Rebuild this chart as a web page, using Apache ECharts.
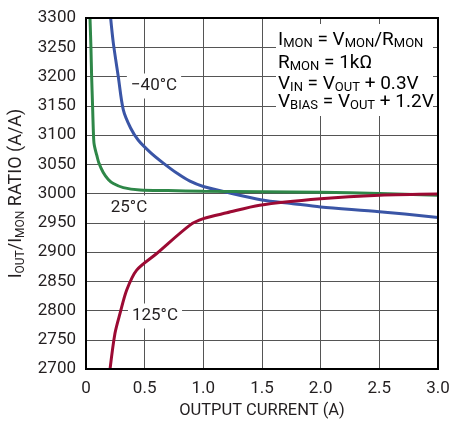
<!DOCTYPE html>
<html>
<head>
<meta charset="utf-8">
<script src="https://cdn.jsdelivr.net/npm/echarts@6/dist/echarts.min.js"></script>
<style>
    html,body{margin:0;padding:0;background:#fff;}
    #chart{width:452px;height:421px;}
</style>
</head>
<body>
<div id="chart"></div>
<script>
    // output current (A) vs IOUT/IMON ratio
    var cold = [[0.21,3300],[0.233,3257],[0.275,3200],[0.318,3143],[0.38,3112],[0.446,3091],[0.55,3070],[0.659,3052],[0.78,3034],[0.886,3021],[1.0,3012],[1.2,3002],[1.5,2989],[1.75,2983],[2.0,2977],[2.5,2969],[3.0,2959]];
    var room = [[0.034,3300],[0.042,3250],[0.048,3200],[0.056,3150],[0.062,3110],[0.068,3086],[0.08,3074],[0.091,3066],[0.11,3052],[0.147,3036],[0.19,3024],[0.233,3017],[0.318,3010],[0.46,3006],[0.7,3005],[1.0,3004],[1.5,3003],[2.0,3002],[2.5,3000],[3.0,2997]];
    var hot = [[0.205,2700],[0.247,2761],[0.29,2795],[0.347,2835],[0.432,2869],[0.6,2897],[0.886,2946],[1.0,2957],[1.2,2967],[1.48,2980],[2.0,2991],[2.5,2997],[3.0,2999]];
    var curveNames = ['−40°C','25°C','125°C'];
    var noteLines = [
        '{n|I}{s|MON}{n| = V}{s|MON}{n|/R}{s|MON}',
        '{n|R}{s|MON}{n| = 1kΩ}',
        '{n|V}{s|IN}{n| = V}{s|OUT}{n| + 0.3V}',
        '{n|V}{s|BIAS}{n| = V}{s|OUT}{n| + 1.2V}'
    ];

    var font = 'Roboto';
    var ink = '#231f20';

    var myChart = echarts.init(document.getElementById('chart'));

    function lineSeries(name,data,color){
        return {
            name:name,
            type:'line',
            data:data,
            showSymbol:false,
            smooth:0.3,
            lineStyle:{color:color,width:3},
            z:5
        };
    }

    function tag(text,x,y){
        return {
            type:'text',
            x:x,
            y:y,
            z:1,
            style:{
                text:text,
                font:'17px ' + font,
                fill:ink,
                align:'center',
                verticalAlign:'middle',
                backgroundColor:'#fff',
                padding:[4,4,4,4]
            }
        };
    }

    var rich = {
        n:{fontFamily:font,fontSize:19,color:ink},
        s:{fontFamily:font,fontSize:13,color:ink,padding:[8,0,0,0]}
    };

    var graphics = [{
        type:'rect',
        shape:{x:276,y:24,width:157,height:92},
        style:{fill:'#fff'},
        z:1
    }];
    var noteY = [40,63,84,102];
    noteLines.forEach(function(t,i){
        graphics.push({
            type:'text',
            x:278,
            y:noteY[i],
            z:2,
            style:{text:t,rich:rich,align:'left',verticalAlign:'middle'}
        });
    });
    graphics.push(tag(curveNames[0],154,86));
    graphics.push(tag(curveNames[1],129,208));
    graphics.push(tag(curveNames[2],155,316));

    var option = {
        animation:false,
        backgroundColor:'#fff',
        grid:{
            left:86,
            right:14,
            top:18,
            bottom:52,
            outerBoundsMode:'none',
            show:true,
            borderColor:'#000',
            borderWidth:2,
            z:6
        },
        xAxis:{
            type:'value',
            min:0,
            max:3,
            interval:0.5,
            name:'OUTPUT CURRENT (A)',
            nameLocation:'middle',
            nameGap:33,
            nameTextStyle:{fontFamily:font,fontSize:16.5,color:ink},
            axisLine:{show:false},
            axisTick:{show:false},
            axisLabel:{
                margin:11,
                fontFamily:font,
                fontSize:17,
                color:ink,
                formatter:function(v){
                    return v === 0 ? '0' : v.toFixed(1);
                }
            },
            splitLine:{show:true,lineStyle:{color:'#555',width:1}}
        },
        yAxis:{
            type:'value',
            min:2700,
            max:3300,
            interval:50,
            name:'{n|I}{s|OUT}{n|/I}{s|MON}{n| RATIO (A/A)}',
            nameLocation:'middle',
            nameGap:55,
            nameTextStyle:{
                rich:{
                    n:{fontFamily:font,fontSize:18,color:ink},
                    s:{fontFamily:font,fontSize:12,color:ink,padding:[8,0,0,0]}
                }
            },
            axisLine:{show:false},
            axisTick:{show:false},
            axisLabel:{
                margin:10,
                fontFamily:font,
                fontSize:17,
                color:ink,
                formatter:function(v){
                    return String(v);
                }
            },
            splitLine:{show:true,lineStyle:{color:'#555',width:1}}
        },
        series:[
            lineSeries(curveNames[0],cold,'#3a55a6'),
            lineSeries(curveNames[1],room,'#2e8748'),
            lineSeries(curveNames[2],hot,'#9c0a33')
        ],
        graphic:graphics
    };

    myChart.setOption(option);
</script>
</body>
</html>
